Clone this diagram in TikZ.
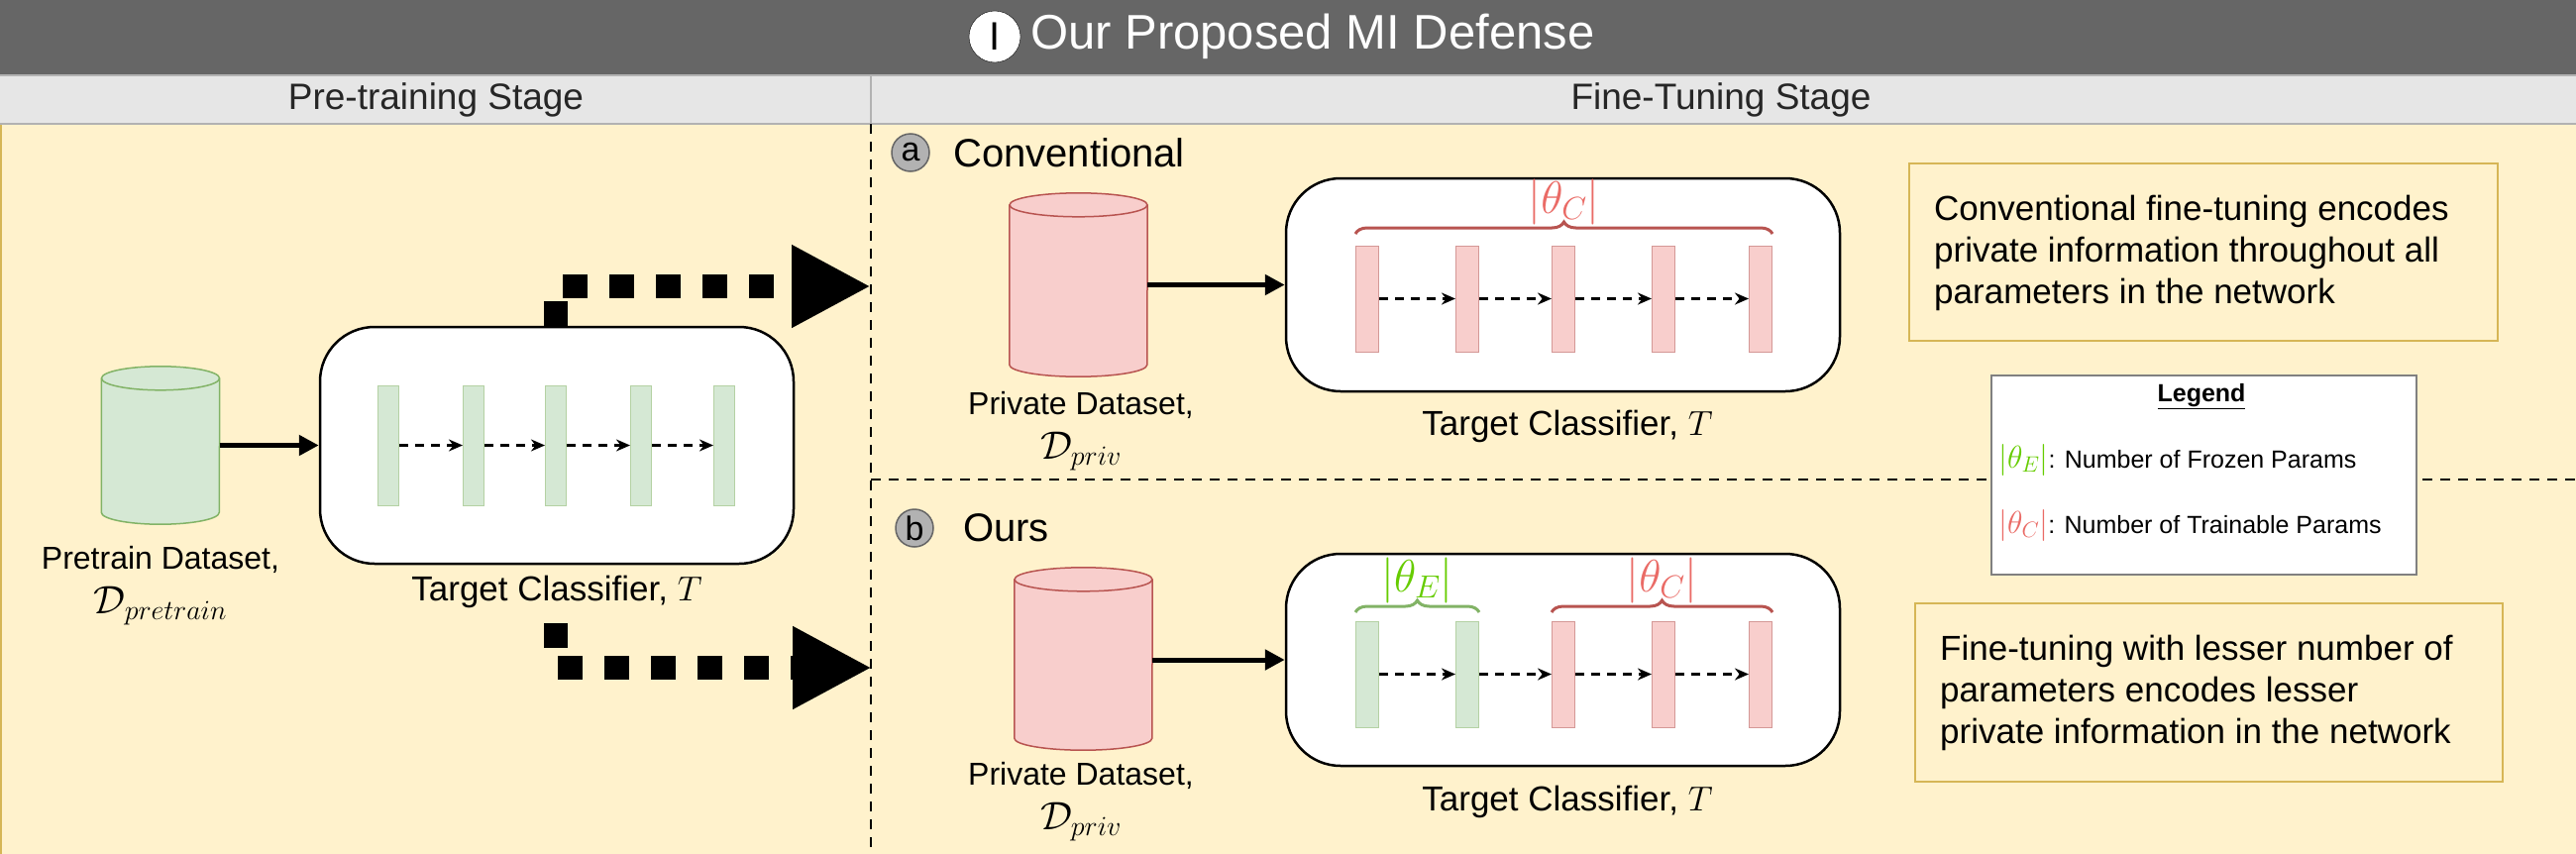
\RequirePackage{fix-cm}
\documentclass[tikz,border=0pt]{standalone}
\usepackage{fontspec}
\setmainfont{Liberation Sans}
\usetikzlibrary{arrows.meta,decorations.pathreplacing,calc}
\definecolor{titlebg}{HTML}{666666}
\definecolor{headbg}{HTML}{E6E6E6}
\definecolor{bodybg}{HTML}{FFF2CC}
\definecolor{boxbd}{HTML}{D6B656}
\definecolor{gfill}{HTML}{D5E8D4}
\definecolor{gline}{HTML}{82B366}
\definecolor{rfill}{HTML}{F8CECC}
\definecolor{rline}{HTML}{B85450}
\definecolor{rtext}{HTML}{EA6B66}
\definecolor{gtext}{HTML}{66CC00}
\newcommand{\fs}[1]{\fontsize{#1}{\fpeval{1.2*#1}}\selectfont}
% \dbcyl{name}{cx}{cy}{w}{h}{fill}{line}
\newcommand{\dbcyl}[7]{%
  \node[minimum width=#4pt, minimum height=#5pt, inner sep=0pt] (#1) at (#2,#3) {};
  \filldraw[fill=#6, draw=#7, line width=1.5pt]
    ($(#1.north west)+(0,12)$) -- ($(#1.south west)+(0,-12)$)
    arc[start angle=180, end angle=360, x radius=#4pt/2, y radius=12pt]
    -- ($(#1.north east)+(0,12)$);
  \filldraw[fill=#6, draw=#7, line width=1.5pt] ($(#1.north)+(0,12)$) ellipse[x radius=#4pt/2, y radius=12pt];
}
\tikzset{
  net/.style={draw, line width=2.5pt, rounded corners=55pt, fill=white},
  gbar/.style={fill=gfill, draw=gline!60, line width=1pt, minimum width=21pt, inner sep=0pt},
  rbar/.style={fill=rfill, draw=rline!60, line width=1pt, minimum width=23pt, inner sep=0pt},
  solidarr/.style={line width=5pt, -{Triangle[length=20pt,width=20pt]}},
  smallarr/.style={line width=2.5pt, dash pattern=on 9pt off 7pt, -{Stealth[length=14pt,width=12pt]}},
  bigarr/.style={line width=24pt, dash pattern=on 25pt off 22pt, -{Triangle[length=80pt,width=78pt]}},
  divider/.style={line width=2pt, dash pattern=on 10pt off 8pt},
  lbl/.style={align=center, font=\fs{32}, inner sep=0pt},
  note/.style={draw=boxbd, line width=1.5pt, fill=bodybg, inner sep=0pt},
  badge/.style={circle, fill=gray!60, draw=black!60, line width=1.5pt, minimum size=38pt, inner sep=0pt, font=\fs{34}},
  brace/.style={decorate, decoration={brace, amplitude=12pt}, line width=3pt},
}
\begin{document}
\begin{tikzpicture}[x=1pt,y=-1pt]
\useasboundingbox (0,0) rectangle (2600,862);
% backgrounds
\fill[bodybg] (0,125) rectangle (2600,862);
\draw[boxbd, line width=2pt] (1,125) -- (1,862);
\fill[titlebg] (0,0) rectangle (2600,76);
\fill[headbg] (0,76) rectangle (2600,125);
\draw[gray!60, line width=2pt] (0,76) -- (2600,76) (0,125) -- (2600,125) (879,76) -- (879,125);
\node[circle, fill=white, draw=black, minimum size=52pt, inner sep=0pt, font=\fs{40}] (ibadge) at (1004,37) {I};
\node[anchor=west, text=white, font=\fs{49}, inner sep=0pt] (title) at (1040,37) {Our Proposed MI Defense};
\node[font=\fs{37}, text=black!85] (pre) at (440,101) {Pre-training Stage};
\node[font=\fs{37}, text=black!85] (fine) at (1737,101) {Fine-Tuning Stage};
% dividers
\draw[divider] (879,125) -- (879,862);
\draw[divider] (879,484) -- (2600,484);
% pretraining
\dbcyl{pcyl}{162}{449.5}{119}{159}{gfill}{gline}
\node[net, minimum width=478pt, minimum height=239pt] (pbox) at (562,449.5) {};
\foreach \i/\x in {1/392,2/478,3/561,4/647,5/731}
  \node[gbar, minimum height=121pt] (pb\i) at (\x,449.5) {};
\foreach \a/\b in {1/2,2/3,3/4,4/5} \draw[smallarr] (pb\a.east) -- (pb\b.west);
\draw[solidarr] (pcyl.east) -- (pbox.west);
\node[lbl] (plbl) at (162,591) {Pretrain Dataset,\\[6pt]{\fs{40}$\mathcal{D}_{pretrain}$}};
\node[lbl, font=\fs{35}] (ptc) at (562,597) {Target Classifier, $T$};
\coordinate (up1) at (561,289);
\coordinate (upend) at (879,289);
\coordinate (lo0) at (561,629);
\coordinate (lo1) at (561,674);
\coordinate (loend) at (880,674);
\draw[bigarr] (pbox.north -| up1) -- (up1) -- (upend);
\draw[bigarr] (lo0) -- (lo1) -- (loend);
% (a) conventional
\node[badge] (ba) at (919,154) {a};
\node[anchor=west, font=\fs{40}, inner sep=0pt] (conv) at (962,154) {Conventional};
\dbcyl{c1}{1088.5}{287.5}{139}{185}{rfill}{rline}
\node[net, minimum width=559pt, minimum height=215pt] (box1) at (1577.5,287.5) {};
\foreach \i/\x in {1/1380,2/1481,3/1578,4/1679,5/1777}
  \node[rbar, minimum height=107pt] (a\i) at (\x,301.5) {};
\foreach \a/\b in {1/2,2/3,3/4,4/5} \draw[smallarr] (a\a.east) -- (a\b.west);
\draw[solidarr] (c1.east |- box1.west) -- (box1.west);
\draw[brace, rline] (a1.north west |- 0,236) -- (a5.north east |- 0,236) node[midway, above=8pt, text=rtext, font=\fs{46}, inner sep=0pt] (thc1) {$|\theta_C|$};
\node[lbl] (pd1) at (1091,435) {Private Dataset,\\[6pt]{\fs{40}$\mathcal{D}_{priv}$}};
\node[lbl, font=\fs{35}] (tc1) at (1582,430) {Target Classifier, $T$};
% (b) ours
\node[badge] (bb) at (923,533) {b};
\node[anchor=west, font=\fs{40}, inner sep=0pt] (ours) at (972,533) {Ours};
\dbcyl{c2}{1093.5}{665}{139}{184}{rfill}{rline}
\node[net, minimum width=559pt, minimum height=214pt] (box2) at (1577.5,666) {};
\node[gbar, minimum width=23pt, minimum height=107pt] (b1) at (1380,680.5) {};
\node[gbar, minimum width=23pt, minimum height=107pt] (b2) at (1481,680.5) {};
\foreach \i/\x in {3/1578,4/1679,5/1777}
  \node[rbar, minimum height=107pt] (b\i) at (\x,680.5) {};
\foreach \a/\b in {1/2,2/3,3/4,4/5} \draw[smallarr] (b\a.east) -- (b\b.west);
\draw[solidarr] (c2.east |- box2.west) -- (box2.west);
\draw[brace, gline] (b1.north west |- 0,618) -- (b2.north east |- 0,618) node[midway, above=8pt, text=gtext, font=\fs{46}, inner sep=0pt] (the) {$|\theta_E|$};
\draw[brace, rline] (b3.north west |- 0,618) -- (b5.north east |- 0,618) node[midway, above=8pt, text=rtext, font=\fs{46}, inner sep=0pt] (thc2) {$|\theta_C|$};
\node[lbl] (pd2) at (1091,809) {Private Dataset,\\[6pt]{\fs{40}$\mathcal{D}_{priv}$}};
\node[lbl, font=\fs{35}] (tc2) at (1582,809) {Target Classifier, $T$};
% notes
\node[note, minimum width=594pt, minimum height=179pt] (n1) at (2224,254.5) {};
\node[anchor=west, align=left, font=\fs{35}, inner sep=0pt] (n1t) at (1952,255)
  {Conventional fine-tuning encodes\\private information throughout all\\parameters in the network};
\node[note, minimum width=593pt, minimum height=180pt] (n2) at (2229.5,699) {};
\node[anchor=west, align=left, font=\fs{35}, inner sep=0pt] (n2t) at (1958,699)
  {Fine-tuning with lesser number of\\parameters encodes lesser\\private information in the network};
% legend
\node[draw=gray, line width=1.5pt, fill=white, minimum width=429pt, minimum height=201pt] (leg) at (2224.5,479.5) {};
\node[font=\bfseries\fs{25}, inner sep=0pt] (legt) at (2222,400) {\underline{Legend}};
\node[anchor=west, font=\fs{25}, inner sep=0pt] (l1) at (2017,464) {\textcolor{gtext}{\fs{32}$|\theta_E|$}: Number of Frozen Params};
\node[anchor=west, font=\fs{25}, inner sep=0pt] (l2) at (2017,530) {\textcolor{rtext}{\fs{32}$|\theta_C|$}: Number of Trainable Params};
\end{tikzpicture}
\end{document}
